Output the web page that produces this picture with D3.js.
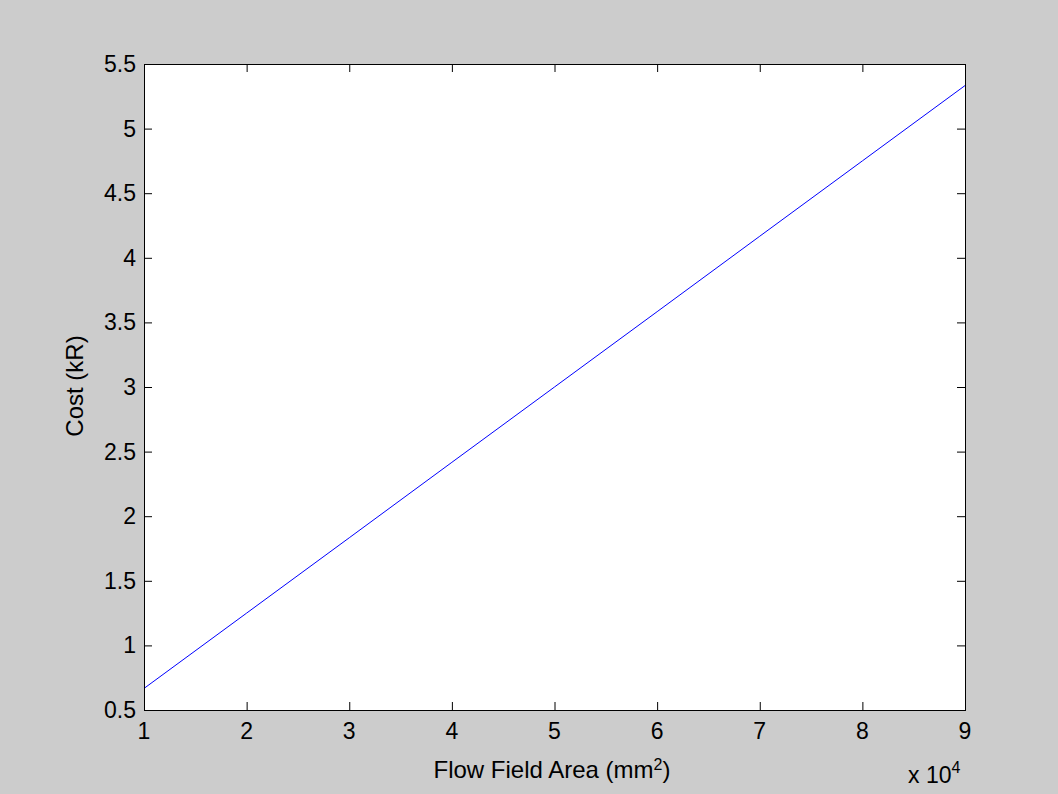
<!DOCTYPE html>
<html>
<head>
<meta charset="utf-8">
<script src="https://cdn.jsdelivr.net/npm/d3@7"></script>
<style>
  body { margin: 0; background: #cccccc; }
  svg { display: block; font-family: Arial, "Liberation Sans", Helvetica, sans-serif; }
</style>
</head>
<body>
<svg id="vis" width="1058" height="794"></svg>
<script>
// flow field area (x 10^4 mm^2) and cost (kR)
const areas = [1, 2, 3, 4, 5, 6, 7, 8, 9];
const costs = [0.667, 1.25, 1.833, 2.417, 3.0, 3.583, 4.167, 4.75, 5.333];
const xTicks = [1, 2, 3, 4, 5, 6, 7, 8, 9];
const yTicks = [0.5, 1, 1.5, 2, 2.5, 3, 3.5, 4, 4.5, 5, 5.5];

const width = 1058, height = 794;
const plotLeft = 144, plotRight = 965, plotTop = 64, plotBottom = 710;
const tickFont = 23, labelFont = 24, supFont = 16;

const svg = d3.select("svg#vis");

svg.append("rect")
    .attr("width", width)
    .attr("height", height)
    .attr("fill", "#cccccc");

const x = d3.scaleLinear().domain([1, 9]).range([plotLeft, plotRight]);
const y = d3.scaleLinear().domain([0.5, 5.5]).range([plotBottom, plotTop]);

svg.append("rect")
    .attr("x", plotLeft)
    .attr("y", plotTop)
    .attr("width", plotRight - plotLeft)
    .attr("height", plotBottom - plotTop)
    .attr("fill", "#ffffff");

// line
const line = d3.line()
    .x((d, i) => x(areas[i]))
    .y(d => y(d));

svg.append("path")
    .datum(costs)
    .attr("d", line)
    .attr("fill", "none")
    .attr("stroke", "#0000ff")
    .attr("stroke-width", 1);

// axes with inward ticks, mirrored on top and right
function styleAxis(g) {
    g.select(".domain").remove();
    g.selectAll(".tick line").attr("stroke", "#000");
    g.selectAll("text").remove();
}

svg.append("g")
    .attr("transform", `translate(0,${plotBottom})`)
    .call(d3.axisTop(x).tickValues(xTicks).tickSize(8))
    .call(styleAxis);
svg.append("g")
    .attr("transform", `translate(0,${plotTop})`)
    .call(d3.axisBottom(x).tickValues(xTicks).tickSize(8))
    .call(styleAxis);
svg.append("g")
    .attr("transform", `translate(${plotLeft},0)`)
    .call(d3.axisRight(y).tickValues(yTicks).tickSize(8))
    .call(styleAxis);
svg.append("g")
    .attr("transform", `translate(${plotRight},0)`)
    .call(d3.axisLeft(y).tickValues(yTicks).tickSize(8))
    .call(styleAxis);

// frame
svg.append("rect")
    .attr("x", plotLeft + 0.5)
    .attr("y", plotTop + 0.5)
    .attr("width", plotRight - plotLeft)
    .attr("height", plotBottom - plotTop)
    .attr("fill", "none")
    .attr("stroke", "#000")
    .attr("stroke-width", 1);

// tick labels
svg.append("g")
    .selectAll("text")
    .data(xTicks)
    .join("text")
    .attr("x", d => x(d))
    .attr("y", plotBottom + 29)
    .attr("text-anchor", "middle")
    .attr("font-size", tickFont)
    .text(d => d);

svg.append("g")
    .selectAll("text")
    .data(yTicks)
    .join("text")
    .attr("x", plotLeft - 8)
    .attr("y", d => y(d) + 8)
    .attr("text-anchor", "end")
    .attr("font-size", tickFont)
    .text(d => d);

// axis labels
const xl = svg.append("text")
    .attr("x", 552)
    .attr("y", 778)
    .attr("text-anchor", "middle")
    .attr("font-size", labelFont);
xl.append("tspan").text("Flow Field Area (mm");
xl.append("tspan").attr("dy", -8).attr("font-size", supFont).text("2");
xl.append("tspan").attr("dy", 8).text(")");

svg.append("text")
    .attr("transform", "translate(83,386) rotate(-90)")
    .attr("text-anchor", "middle")
    .attr("font-size", labelFont)
    .text("Cost (kR)");

const ex = svg.append("text")
    .attr("x", 908)
    .attr("y", 783)
    .attr("font-size", tickFont);
ex.append("tspan").text("x 10");
ex.append("tspan").attr("dy", -10).attr("font-size", supFont).text("4");
</script>
</body>
</html>
